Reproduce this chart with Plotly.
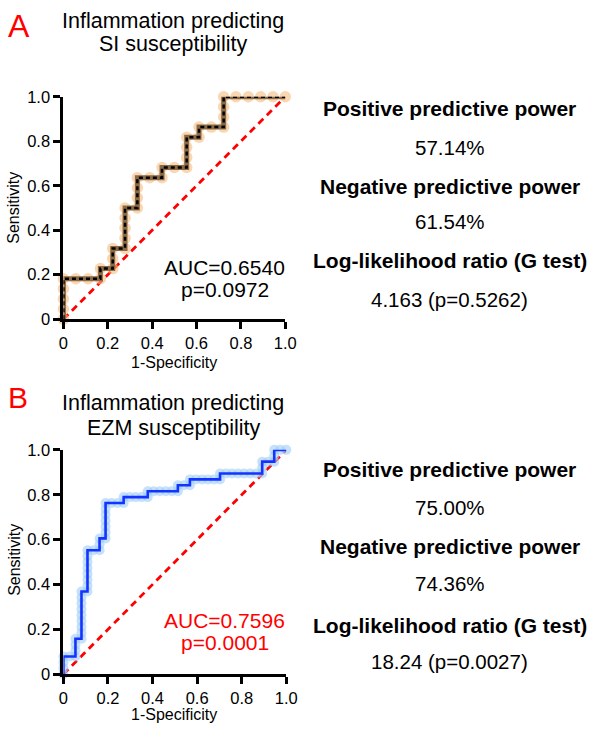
import plotly.graph_objects as go

# Panel A: Inflammation predicting SI susceptibility (ROC points)
si_fpr = [0, 0, 0, 0, 0, 0.0556, 0.1111, 0.1667, 0.1667, 0.2222, 0.2222, 0.2222,
          0.2778, 0.2778, 0.2778, 0.2778, 0.2778, 0.3333, 0.3333, 0.3333, 0.3333,
          0.3889, 0.4444, 0.4444, 0.5, 0.5556, 0.5556, 0.5556, 0.5556, 0.6111, 0.6111,
          0.6667, 0.7222, 0.7222, 0.7222, 0.7222, 0.7778, 0.8333, 0.8889, 0.9444, 1.0]
si_tpr = [0, 0.0455, 0.0909, 0.1364, 0.1818, 0.1818, 0.1818, 0.1818, 0.2273, 0.2273,
          0.2727, 0.3182, 0.3182, 0.3636, 0.4091, 0.4545, 0.5, 0.5, 0.5455, 0.5909,
          0.6364, 0.6364, 0.6364, 0.6818, 0.6818, 0.6818, 0.7273, 0.7727, 0.8182,
          0.8182, 0.8636, 0.8636, 0.8636, 0.9091, 0.9545, 1.0, 1.0, 1.0, 1.0, 1.0, 1.0]

# Panel B: Inflammation predicting EZM susceptibility (ROC points)
ezm_fpr = [0, 0, 0, 0, 0.027, 0.0541, 0.0541, 0.0541, 0.0541, 0.0811, 0.0811, 0.0811,
           0.0811, 0.0811, 0.0811, 0.0811, 0.0811, 0.0811, 0.1081, 0.1081, 0.1081,
           0.1081, 0.1081, 0.1081, 0.1081, 0.1081, 0.1351, 0.1622, 0.1622, 0.1622,
           0.1892, 0.1892, 0.1892, 0.1892, 0.1892, 0.1892, 0.1892, 0.2162, 0.2432,
           0.2703, 0.2703, 0.2973, 0.3243, 0.3514, 0.3784, 0.3784, 0.4054, 0.4324,
           0.4595, 0.4865, 0.5135, 0.5135, 0.5405, 0.5676, 0.5676, 0.5946, 0.6216,
           0.6486, 0.6757, 0.7027, 0.7027, 0.7297, 0.7568, 0.7838, 0.8108, 0.8378,
           0.8649, 0.8919, 0.8919, 0.8919, 0.9189, 0.9459, 0.9459, 0.9459, 0.973, 1.0]
ezm_tpr = [0, 0.0263, 0.0526, 0.0789, 0.0789, 0.0789, 0.1053, 0.1316, 0.1579, 0.1579,
           0.1842, 0.2105, 0.2368, 0.2632, 0.2895, 0.3158, 0.3421, 0.3684, 0.3684,
           0.3947, 0.4211, 0.4474, 0.4737, 0.5, 0.5263, 0.5526, 0.5526, 0.5526,
           0.5789, 0.6053, 0.6053, 0.6316, 0.6579, 0.6842, 0.7105, 0.7368, 0.7632,
           0.7632, 0.7632, 0.7632, 0.7895, 0.7895, 0.7895, 0.7895, 0.7895, 0.8158,
           0.8158, 0.8158, 0.8158, 0.8158, 0.8158, 0.8421, 0.8421, 0.8421, 0.8684,
           0.8684, 0.8684, 0.8684, 0.8684, 0.8684, 0.8947, 0.8947, 0.8947, 0.8947,
           0.8947, 0.8947, 0.8947, 0.8947, 0.9211, 0.9474, 0.9474, 0.9474, 0.9737,
           1.0, 1.0, 1.0]

ref_x = [0, 1]
ref_y = [0, 1]

tick_vals = [0, 0.2, 0.4, 0.6, 0.8, 1.0]
tick_text = ["0", "0.2", "0.4", "0.6", "0.8", "1.0"]

FONT = "Liberation Sans, Arial, sans-serif"
W, H = 600, 731

fig = go.Figure()

# ---- Panel A ----
fig.add_trace(go.Scatter(x=ref_x, y=ref_y, mode="lines", xaxis="x", yaxis="y",
                         line=dict(color="#ff0000", width=2.8, dash="7px,5px"),
                         hoverinfo="skip", cliponaxis=False))
fig.add_trace(go.Scatter(x=si_fpr, y=si_tpr, mode="markers", xaxis="x", yaxis="y",
                         marker=dict(size=11.5, color="rgba(247,188,128,0.6)", line=dict(width=0)),
                         cliponaxis=False))
fig.add_trace(go.Scatter(x=si_fpr, y=si_tpr, mode="lines", xaxis="x", yaxis="y",
                         line=dict(color="#8a6a44", width=5), cliponaxis=False))
fig.add_trace(go.Scatter(x=si_fpr, y=si_tpr, mode="lines", xaxis="x", yaxis="y",
                         line=dict(color="#000000", width=2.5, dash="4px,3px"), cliponaxis=False))

# ---- Panel B ----
fig.add_trace(go.Scatter(x=ref_x, y=ref_y, mode="lines", xaxis="x2", yaxis="y2",
                         line=dict(color="#ff0000", width=2.8, dash="7px,5px"),
                         hoverinfo="skip", cliponaxis=False))
fig.add_trace(go.Scatter(x=ezm_fpr, y=ezm_tpr, mode="markers", xaxis="x2", yaxis="y2",
                         marker=dict(size=10, color="rgba(160,205,248,0.6)", line=dict(width=0)),
                         cliponaxis=False))
fig.add_trace(go.Scatter(x=ezm_fpr, y=ezm_tpr, mode="lines", xaxis="x2", yaxis="y2",
                         line=dict(color="#1433ff", width=2.6), cliponaxis=False))


def px(x):
    return x / W


def py(y):
    return 1 - y / H


axis_common = dict(range=[0, 1], showline=True, linewidth=3, linecolor="black",
                   ticks="outside", ticklen=7, tickwidth=3, tickcolor="black",
                   tickvals=tick_vals, ticktext=tick_text, showgrid=False, zeroline=False,
                   tickfont=dict(size=16.5, color="black", family=FONT), fixedrange=True)

fig.update_layout(
    width=W, height=H, margin=dict(l=0, r=0, t=0, b=0),
    paper_bgcolor="white", plot_bgcolor="white", showlegend=False,
    font=dict(family=FONT, color="black"),
    xaxis=dict(domain=[px(60), px(288)], anchor="y", **axis_common),
    yaxis=dict(domain=[py(318), py(90)], anchor="x", **axis_common),
    xaxis2=dict(domain=[px(60), px(289)], anchor="y2", **axis_common),
    yaxis2=dict(domain=[py(682), py(452)], anchor="x2", **axis_common),
)

annots = []


def txt(x, y, s, size=17, color="black", bold=False, xanchor="center", angle=0):
    if bold:
        s = "<b>" + s + "</b>"
    annots.append(dict(x=px(x), y=py(y), xref="paper", yref="paper", text=s,
                       showarrow=False, xanchor=xanchor, yanchor="middle",
                       textangle=angle,
                       font=dict(size=size, color=color, family=FONT)))


# Panel A texts
txt(1, 17, "A", size=32, color="#ff0000", xanchor="left")
txt(173, 12, "Inflammation predicting", size=21.5)
txt(173, 36, "SI susceptibility", size=21.5)
txt(9, 204, "Sensitivity", size=16, angle=-90)
txt(174, 362, "1-Specificity", size=16)
txt(226, 265, "AUC=0.6540", size=21)
txt(226, 288, "p=0.0972", size=21)
txt(457, 102, "Positive predictive power", size=21, bold=True)
txt(457, 142, "57.14%", size=20.5)
txt(457, 182, "Negative predictive power", size=21, bold=True)
txt(457, 218, "61.54%", size=20.5)
txt(457, 258, "Log-likelihood ratio (G test)", size=21, bold=True)
txt(457, 298, "4.163 (p=0.5262)", size=20.5)

# Panel B texts
txt(1, 398, "B", size=30, color="#ff0000", xanchor="left")
txt(173, 404, "Inflammation predicting", size=21.5)
txt(173, 430, "EZM susceptibility", size=21.5)
txt(9, 565, "Sensitivity", size=16, angle=-90)
txt(174, 723, "1-Specificity", size=16)
txt(226, 627, "AUC=0.7596", size=21, color="#ff0000")
txt(226, 650, "p=0.0001", size=21, color="#ff0000")
txt(457, 472, "Positive predictive power", size=21, bold=True)
txt(457, 511, "75.00%", size=20.5)
txt(457, 551, "Negative predictive power", size=21, bold=True)
txt(457, 589, "74.36%", size=20.5)
txt(457, 632, "Log-likelihood ratio (G test)", size=21, bold=True)
txt(457, 669, "18.24 (p=0.0027)", size=20.5)

fig.update_layout(annotations=annots)

fig.write_html("out.html", config={"displayModeBar": False},
               post_script="document.body.style.margin='0px';document.body.style.overflow='hidden';")
